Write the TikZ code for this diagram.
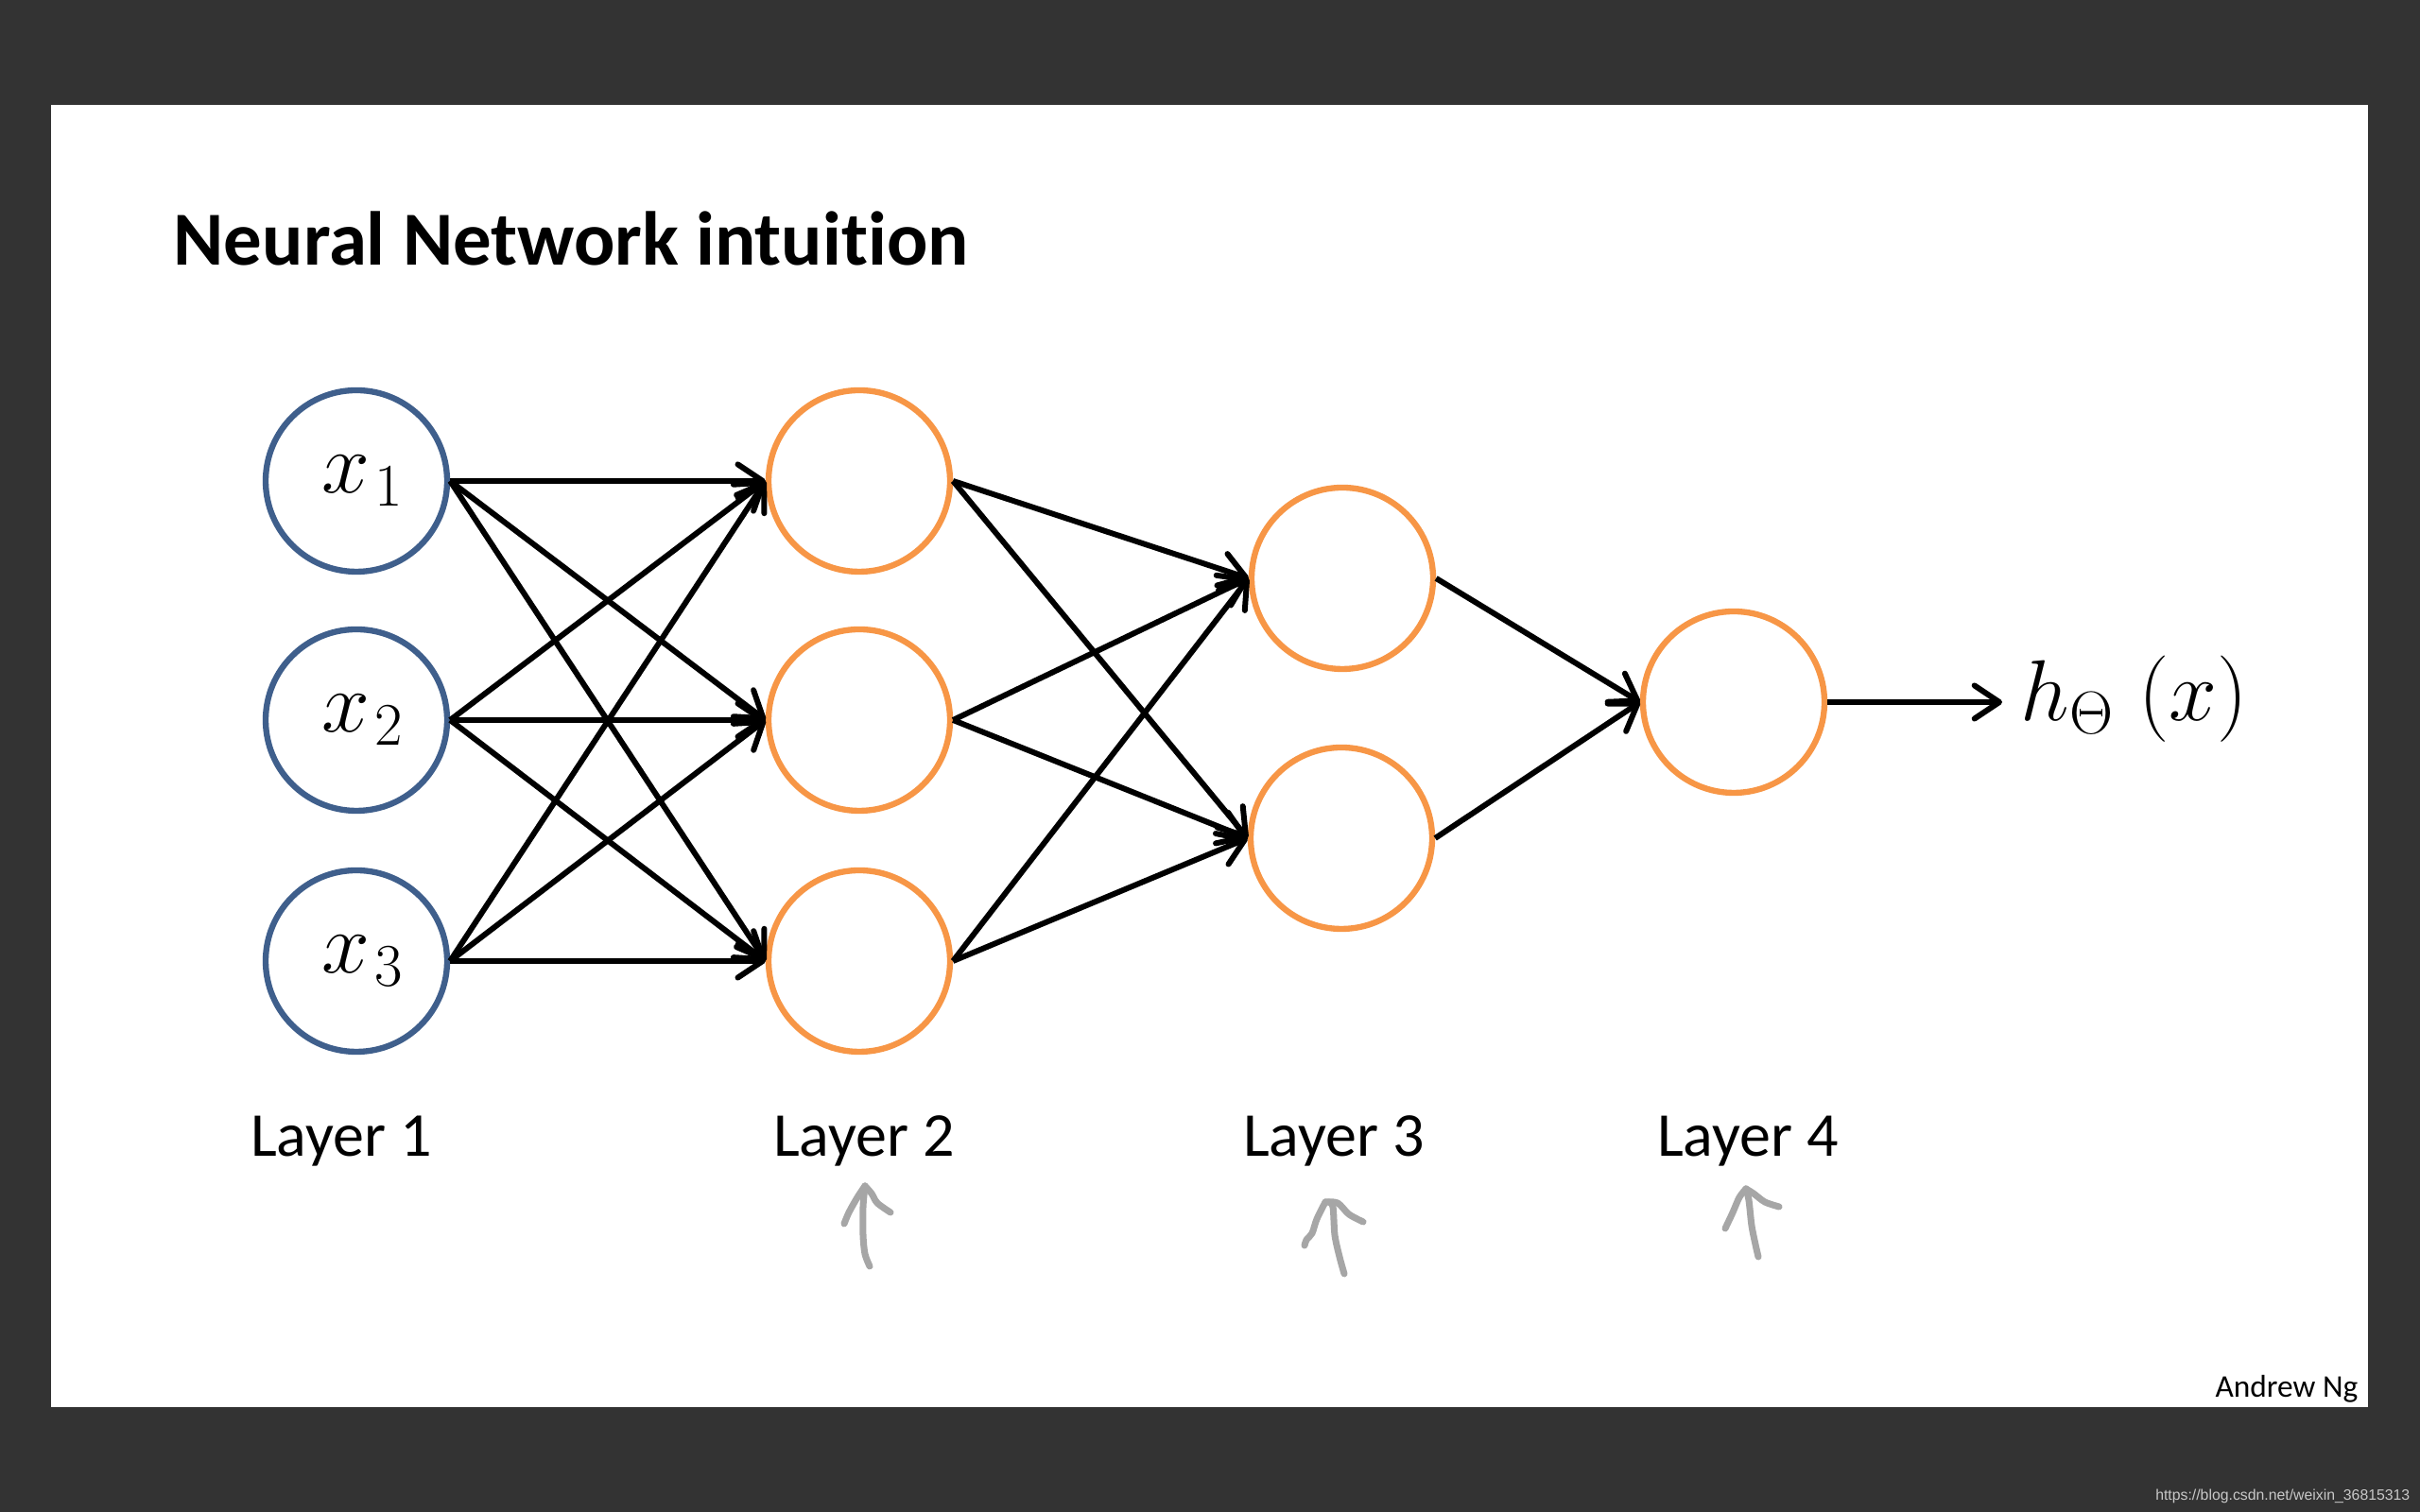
\RequirePackage{fix-cm}
\documentclass[tikz,border=0pt]{standalone}
\usepackage[no-math]{fontspec}
\newfontfamily\slidefont[Ligatures=NoCommon]{Carlito}
\newfontfamily\webfont{Liberation Sans}
\usetikzlibrary{arrows.meta}
\definecolor{slidebg}{HTML}{333333}
\definecolor{inblue}{HTML}{3F5F8C}
\definecolor{unitorange}{HTML}{F79646}
\definecolor{pengray}{HTML}{A6A6A6}
\definecolor{webgray}{HTML}{C8C8C8}

\begin{document}
\begin{tikzpicture}[
		innode/.style={circle, draw=inblue, line width=1.8pt, minimum size=1.92cm, inner sep=0pt, font=\fontsize{26}{30}\selectfont},
		unit/.style={circle, draw=unitorange, line width=1.8pt, minimum size=1.92cm, inner sep=0pt},
		link/.style={-{Straight Barb[length=7.5pt,width=10pt,round]}, line width=1.7pt},
		layerlabel/.style={anchor=base, inner sep=0pt, font=\slidefont\fontsize{18.8}{22}\selectfont},
		pen/.style={draw=pengray, line width=2pt, line cap=round, line join=round}
	]
			%%%%% START %%%%%
			
			\useasboundingbox (0, 0) rectangle (25.6, 16);
			\fill[slidebg] (0, 0) rectangle (25.6, 16);
			\fill[white] (0.54, 1.11) rectangle (25.05, 14.89);
			
			\node[anchor=base west, inner sep=0pt, font=\slidefont\bfseries\fontsize{23}{28}\selectfont] (title) at (1.83, 13.19) {Neural Network intuition};
			
			\node[innode] (x1) at (3.77, 10.91) {\hspace{0.14cm}$x_{\mkern1.5mu 1}$};
			\node[innode] (x2) at (3.77, 8.38) {\hspace{0.14cm}$x_{\mkern1.5mu 2}$};
			\node[innode] (x3) at (3.77, 5.83) {\hspace{0.14cm}$x_{\mkern1.5mu 3}$};
			
			\node[unit] (a1) at (9.09, 10.91) {};
			\node[unit] (a2) at (9.09, 8.38) {};
			\node[unit] (a3) at (9.09, 5.83) {};
			
			\node[unit] (b1) at (14.20, 9.88) {};
			\node[unit] (b2) at (14.19, 7.13) {};
			
			\node[unit] (c1) at (18.34, 8.57) {};
			
			\node[anchor=west, inner xsep=0.19cm, inner ysep=0pt, font=\fontsize{26}{30}\selectfont] (hx) at (21.18, 8.60) {$h_\Theta\mkern5mu(x)$};
			
			\draw[link] (x1.east) -- (a1.west);
			\draw[link] (x1.east) -- (a2.west);
			\draw[link] (x1.east) -- (a3.west);
			\draw[link] (x2.east) -- (a1.west);
			\draw[link] (x2.east) -- (a2.west);
			\draw[link] (x2.east) -- (a3.west);
			\draw[link] (x3.east) -- (a1.west);
			\draw[link] (x3.east) -- (a2.west);
			\draw[link] (x3.east) -- (a3.west);
			
			\draw[link] (a1.east) -- (b1.west);
			\draw[link] (a1.east) -- (b2.west);
			\draw[link] (a2.east) -- (b1.west);
			\draw[link] (a2.east) -- (b2.west);
			\draw[link] (a3.east) -- (b1.west);
			\draw[link] (a3.east) -- (b2.west);
			
			\draw[link] (b1.east) -- (c1.west);
			\draw[link] (b2.east) -- (c1.west);
			\draw[link] (c1.east) -- (c1.east -| hx.west);
			
			\node[layerlabel] (lay1) at (3.61, 3.76) {Layer 1};
			\node[layerlabel] (lay2) at (9.14, 3.76) {Layer 2};
			\node[layerlabel] (lay3) at (14.11, 3.76) {Layer 3};
			\node[layerlabel] (lay4) at (18.49, 3.76) {Layer 4};
			
			% pen marks under the layers
			\draw[pen] plot[smooth] coordinates {(9.20, 2.60) (9.15, 2.73) (9.13, 2.93) (9.13, 3.23) (9.15, 3.45)};
			\draw[pen] plot[smooth] coordinates {(9.15, 3.45) (9.07, 3.33) (8.98, 3.17) (8.93, 3.05)};
			\draw[pen] plot[smooth] coordinates {(9.15, 3.45) (9.22, 3.37) (9.28, 3.27) (9.42, 3.17)};
			
			\draw[pen] plot[smooth] coordinates {(14.22, 2.52) (14.17, 2.70) (14.12, 2.93) (14.10, 3.23) (14.05, 3.28)};
			\draw[pen] plot[smooth] coordinates {(14.02, 3.28) (13.93, 3.10) (13.88, 2.95) (13.82, 2.88) (13.80, 2.82)};
			\draw[pen] plot[smooth] coordinates {(14.02, 3.28) (14.15, 3.27) (14.27, 3.15) (14.42, 3.07)};
			
			\draw[pen] plot[smooth] coordinates {(18.60, 2.70) (18.57, 2.83) (18.53, 3.03) (18.50, 3.30) (18.47, 3.42)};
			\draw[pen] plot[smooth] coordinates {(18.47, 3.42) (18.40, 3.33) (18.33, 3.17) (18.25, 3.00)};
			\draw[pen] plot[smooth] coordinates {(18.47, 3.42) (18.55, 3.37) (18.67, 3.28) (18.82, 3.23)};
			
			\node[anchor=base east, inner sep=0pt, font=\slidefont\fontsize{9.5}{11}\selectfont] (author) at (24.95, 1.21) {Andrew Ng};
			\node[anchor=base east, inner sep=0pt, text=webgray, font=\webfont\fontsize{4.5}{5}\selectfont] (weburl) at (25.50, 0.12) {https://blog.csdn.net/weixin\_36815313};
			
			%%%%% END %%%%%
		\end{tikzpicture}
\end{document}
